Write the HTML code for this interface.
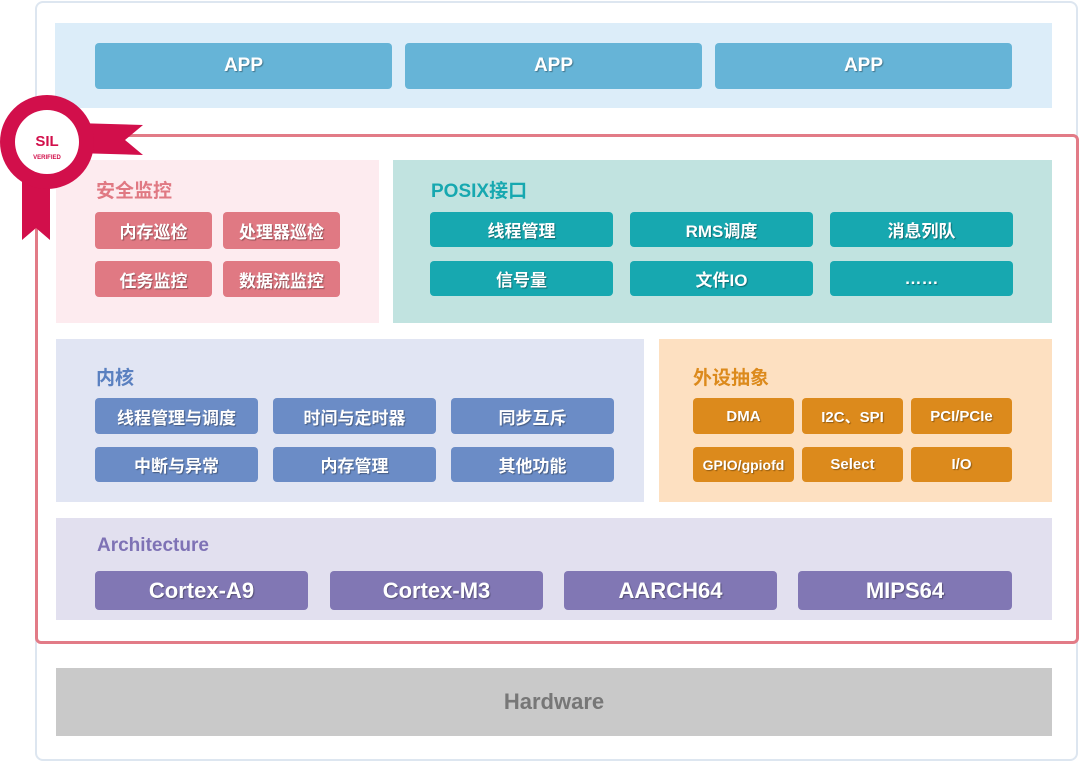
<!DOCTYPE html>
<html><head><meta charset="utf-8"><style>
*{margin:0;padding:0;box-sizing:border-box}
body{width:1080px;height:763px;background:#fff;position:relative;overflow:hidden;font-family:"Liberation Sans","Noto Sans CJK SC",sans-serif;font-weight:bold}
.a{position:absolute}
.b{position:absolute;color:#fff;display:flex;align-items:center;justify-content:center;border-radius:4px;text-shadow:1px 1px 1px rgba(0,0,0,.35);font-size:17px}
.t{position:absolute;font-size:19px}
</style></head><body>
<div class="a" style="left:35px;top:1px;width:1043px;height:760px;border:2px solid #dde6f0;border-radius:8px"></div>
<div class="a" style="left:55px;top:23px;width:997px;height:85px;background:#dcedf9"></div>
<div class="b" style="left:95px;top:43px;width:297px;height:46px;background:#66b4d7;font-size:19px">APP</div>
<div class="b" style="left:405px;top:43px;width:297px;height:46px;background:#66b4d7;font-size:19px">APP</div>
<div class="b" style="left:715px;top:43px;width:297px;height:46px;background:#66b4d7;font-size:19px">APP</div>

<div class="a" style="left:35px;top:134px;width:1044px;height:510px;border:3px solid #e27b87;border-radius:6px"></div>

<div class="a" style="left:56px;top:160px;width:323px;height:163px;background:#fdebef"></div>
<div class="t" style="left:96px;top:176px;color:#e07983">安全监控</div>
<div class="b" style="left:95px;top:212px;width:117px;height:37px;background:#e07983">内存巡检</div>
<div class="b" style="left:223px;top:212px;width:117px;height:37px;background:#e07983">处理器巡检</div>
<div class="b" style="left:95px;top:261px;width:117px;height:36px;background:#e07983">任务监控</div>
<div class="b" style="left:223px;top:261px;width:117px;height:36px;background:#e07983">数据流监控</div>

<div class="a" style="left:393px;top:160px;width:659px;height:163px;background:#c1e3e0"></div>
<div class="t" style="left:431px;top:176px;color:#17a8b0">POSIX接口</div>
<div class="b" style="left:430px;top:212px;width:183px;height:35px;background:#17a8b0">线程管理</div>
<div class="b" style="left:630px;top:212px;width:183px;height:35px;background:#17a8b0">RMS调度</div>
<div class="b" style="left:830px;top:212px;width:183px;height:35px;background:#17a8b0">消息列队</div>
<div class="b" style="left:430px;top:261px;width:183px;height:35px;background:#17a8b0">信号量</div>
<div class="b" style="left:630px;top:261px;width:183px;height:35px;background:#17a8b0">文件IO</div>
<div class="b" style="left:830px;top:261px;width:183px;height:35px;background:#17a8b0">……</div>

<div class="a" style="left:56px;top:339px;width:588px;height:163px;background:#e1e5f3"></div>
<div class="t" style="left:96px;top:363px;color:#5a80c0">内核</div>
<div class="b" style="left:95px;top:398px;width:163px;height:36px;background:#6b8cc6">线程管理与调度</div>
<div class="b" style="left:273px;top:398px;width:163px;height:36px;background:#6b8cc6">时间与定时器</div>
<div class="b" style="left:451px;top:398px;width:163px;height:36px;background:#6b8cc6">同步互斥</div>
<div class="b" style="left:95px;top:447px;width:163px;height:35px;background:#6b8cc6">中断与异常</div>
<div class="b" style="left:273px;top:447px;width:163px;height:35px;background:#6b8cc6">内存管理</div>
<div class="b" style="left:451px;top:447px;width:163px;height:35px;background:#6b8cc6">其他功能</div>

<div class="a" style="left:659px;top:339px;width:393px;height:163px;background:#fde0c1"></div>
<div class="t" style="left:693px;top:363px;color:#dc8a1c">外设抽象</div>
<div class="b" style="left:693px;top:398px;width:101px;height:36px;background:#dc8a1c;font-size:15px">DMA</div>
<div class="b" style="left:802px;top:398px;width:101px;height:36px;background:#dc8a1c;font-size:15px">I2C、SPI</div>
<div class="b" style="left:911px;top:398px;width:101px;height:36px;background:#dc8a1c;font-size:15px">PCI/PCIe</div>
<div class="b" style="left:693px;top:447px;width:101px;height:35px;background:#dc8a1c;font-size:14px">GPIO/gpiofd</div>
<div class="b" style="left:802px;top:447px;width:101px;height:35px;background:#dc8a1c;font-size:15px">Select</div>
<div class="b" style="left:911px;top:447px;width:101px;height:35px;background:#dc8a1c;font-size:15px">I/O</div>

<div class="a" style="left:56px;top:518px;width:996px;height:102px;background:#e2e0ef"></div>
<div class="t" style="left:97px;top:535px;color:#7e72b5">Architecture</div>
<div class="b" style="left:95px;top:571px;width:213px;height:39px;background:#8177b4;font-size:22px">Cortex-A9</div>
<div class="b" style="left:330px;top:571px;width:213px;height:39px;background:#8177b4;font-size:22px">Cortex-M3</div>
<div class="b" style="left:564px;top:571px;width:213px;height:39px;background:#8177b4;font-size:22px">AARCH64</div>
<div class="b" style="left:798px;top:571px;width:214px;height:39px;background:#8177b4;font-size:22px">MIPS64</div>

<div class="a" style="left:56px;top:668px;width:996px;height:68px;background:#c9c9c9;color:#777;font-size:22px;display:flex;align-items:center;justify-content:center">Hardware</div>

<svg class="a" style="left:0;top:95px" width="150" height="150">
<polygon points="75,28 143,30 125,45 143,60 75,58" fill="#d20f4b"/>
<polygon points="22,85 50,85 50,145 36,133 22,145" fill="#d20f4b"/>
<circle cx="47" cy="47" r="47" fill="#d20f4b"/>
<circle cx="47" cy="47" r="32" fill="#fff"/>
<text x="47" y="51" text-anchor="middle" font-family="Liberation Sans" font-weight="bold" font-size="15" fill="#d20f4b">SIL</text>
<text x="47" y="64" text-anchor="middle" font-family="Liberation Sans" font-weight="bold" font-size="6" fill="#d20f4b">VERIFIED</text>
</svg>
</body></html>
